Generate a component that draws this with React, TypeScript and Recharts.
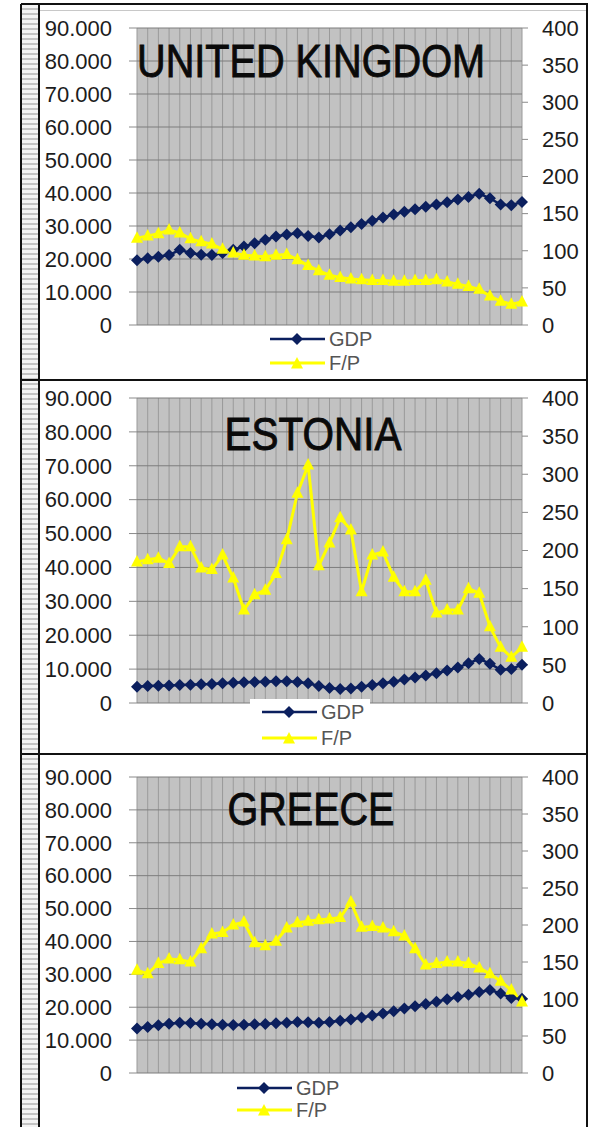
import React from 'react';
import { LineChart, Line, XAxis, YAxis, CartesianGrid, Legend } from 'recharts';

// GDP per head (left axis) and F/P index (right axis), 37 periods per country
const ukGdp = [
  19600, 20200, 20700, 21200, 22800, 21800, 21300, 21200, 21800, 22800,
  23800, 24800, 25800, 26800, 27400, 27800, 27000, 26500, 27500, 28600,
  29600, 30600, 31600, 32600, 33500, 34300, 35100, 35800, 36500, 37200,
  38000, 38800, 39800, 38400, 36500, 36300, 37300,
];
const ukFp = [
  117, 120, 123, 128, 124, 116, 112, 109, 102, 97,
  94, 93, 92, 94, 95, 88, 80, 73, 67, 64,
  62, 61, 60, 60, 59, 59, 60, 60, 61, 58,
  55, 52, 48, 39, 32, 28, 31,
];

const estoniaGdp = [
  4800, 5000, 5100, 5200, 5300, 5400, 5500, 5600, 5800, 6000,
  6100, 6200, 6300, 6400, 6400, 6200, 5800, 5000, 4400, 4100,
  4300, 4800, 5300, 5800, 6300, 6900, 7500, 8100, 8800, 9600,
  10500, 11700, 13000, 11600, 9800, 10000, 11300,
];
const estoniaFp = [
  185, 188, 190, 183, 205, 205, 177, 175, 194, 164,
  122, 142, 148, 170, 214, 275, 312, 180, 210, 243,
  227, 146, 194, 198, 165, 146, 146, 161, 118, 122,
  122, 150, 144, 100, 73, 60, 73,
];

const greeceGdp = [
  13500, 14000, 14500, 15000, 15300, 15200, 15000, 14800, 14700, 14600,
  14700, 14800, 14900, 15100, 15300, 15500, 15400, 15300, 15500, 15900,
  16300, 16900, 17500, 18100, 18800, 19600, 20300, 21000, 21700, 22400,
  23100, 23800, 24600, 25200, 24200, 22800, 22600,
];
const greeceFp = [
  139, 134, 148, 154, 153, 150, 168, 188, 190, 200,
  204, 176, 172, 178, 196, 203, 205, 207, 208, 210,
  231, 197, 198, 196, 191, 185, 168, 146, 148, 150,
  150, 148, 142, 134, 124, 112, 96,
];

const gdpTicks = [0, 10000, 20000, 30000, 40000, 50000, 60000, 70000, 80000, 90000];
const fpTicks = [0, 50, 100, 150, 200, 250, 300, 350, 400];
const seriesOrder = ['gdp', 'fp'];

const GDP_COLOR = '#0b1f5e';
const FP_COLOR = '#ffff00';
const FONT = '"Liberation Sans", Arial, sans-serif';

const fmtGdp = (v: number) => String(v).replace(/\B(?=(\d{3})+(?!\d))/g, '.');

const diamondDot = (p: any) => {
  const { cx, cy, index } = p;
  if (cx == null || cy == null) return <g key={`gd-${index}`} />;
  const r = 6;
  return (
    <polygon
      key={`gd-${index}`}
      points={`${cx},${cy - r} ${cx + r},${cy} ${cx},${cy + r} ${cx - r},${cy}`}
      fill={GDP_COLOR}
    />
  );
};

const triangleDot = (p: any) => {
  const { cx, cy, index } = p;
  if (cx == null || cy == null) return <g key={`fp-${index}`} />;
  return (
    <polygon
      key={`fp-${index}`}
      points={`${cx},${cy - 7} ${cx + 6},${cy + 4.5} ${cx - 6},${cy + 4.5}`}
      fill={FP_COLOR}
    />
  );
};

// x axis keeps its ticks (the grid needs them) but draws no labels
const noTick = () => <g />;

const LegendIcon = ({ dataKey }: { dataKey: string }) => (
  <svg width={55} height={16} style={{ display: 'block' }}>
    <line
      x1={0}
      x2={55}
      y1={8}
      y2={8}
      stroke={dataKey === 'gdp' ? GDP_COLOR : FP_COLOR}
      strokeWidth={dataKey === 'gdp' ? 2.5 : 3}
    />
    {dataKey === 'gdp'
      ? diamondDot({ cx: 27, cy: 8, index: 'l' })
      : triangleDot({ cx: 27, cy: 9, index: 'l' })}
  </svg>
);

const makeLegend = (rowH: number, padLeft: number) => (props: any) => {
  const items = [...((props.payload || []) as any[])].sort(
    (a, b) => seriesOrder.indexOf(a.dataKey) - seriesOrder.indexOf(b.dataKey)
  );
  return (
    <div style={{ background: '#fff', paddingLeft: padLeft, paddingRight: 6 }}>
      {items.map((it) => (
        <div
          key={it.dataKey}
          style={{ display: 'flex', alignItems: 'center', height: rowH }}
        >
          <LegendIcon dataKey={it.dataKey} />
          <span style={{ marginLeft: 4, fontSize: 20, color: '#555', fontFamily: FONT }}>
            {it.value}
          </span>
        </div>
      ))}
    </div>
  );
};

type PanelProps = {
  title: string;
  titleX: number;
  titleY: number;
  titleW: number;
  top: number;
  height: number;
  mTop: number;
  mBottom: number;
  gdp: number[];
  fp: number[];
  legendLeft: number;
  legendTop: number;
  legendRow: number;
  legendPad: number;
};

const W = 547;

const Panel = (p: PanelProps) => {
  const rows = p.gdp.map((g, i) => ({ period: i + 1, gdp: g, fp: p.fp[i] }));
  const tickStyle = { fontSize: 22, fill: '#1c1c1c', fontFamily: FONT };
  return (
    <div style={{ position: 'absolute', left: 40, top: p.top, width: W, height: p.height }}>
      <LineChart
        width={W}
        height={p.height}
        data={rows}
        margin={{ top: p.mTop, right: 0, bottom: p.mBottom, left: 0 }}
      >
        <CartesianGrid
          yAxisId="left"
          horizontal={false}
          fill="#c2c2c2"
          fillOpacity={1}
          stroke="#9a9a9a"
          strokeWidth={1}
        />
        <CartesianGrid
          yAxisId="left"
          vertical={false}
          stroke="#7d7d7d"
          strokeWidth={1}
        />
        <XAxis
          dataKey="period"
          height={0}
          interval={0}
          tick={noTick}
          axisLine={false}
          tickLine={false}
        />
        <YAxis
          yAxisId="left"
          width={97}
          domain={[0, 90000]}
          ticks={gdpTicks}
          interval={0}
          tickFormatter={fmtGdp}
          axisLine={false}
          tickLine={{ stroke: '#8a8a8a' }}
          tickSize={8}
          tickMargin={17}
          tick={tickStyle}
        />
        <YAxis
          yAxisId="right"
          orientation="right"
          width={65}
          domain={[0, 400]}
          ticks={fpTicks}
          interval={0}
          axisLine={false}
          tickLine={{ stroke: '#8a8a8a' }}
          tickSize={6}
          tickMargin={14}
          tick={tickStyle}
        />
        <Line
          yAxisId="left"
          type="linear"
          dataKey="gdp"
          name="GDP"
          stroke={GDP_COLOR}
          strokeWidth={2.5}
          dot={diamondDot}
          activeDot={false}
          isAnimationActive={false}
        />
        <Line
          yAxisId="right"
          type="linear"
          dataKey="fp"
          name="F/P"
          stroke={FP_COLOR}
          strokeWidth={3}
          dot={triangleDot}
          activeDot={false}
          isAnimationActive={false}
        />
        <Legend
          layout="vertical"
          align="center"
          verticalAlign="middle"
          content={makeLegend(p.legendRow, p.legendPad)}
          wrapperStyle={{ left: p.legendLeft, top: p.legendTop, width: 'auto' }}
        />
      </LineChart>
      <svg
        width={W}
        height={p.height}
        style={{ position: 'absolute', left: 0, top: 0, pointerEvents: 'none' }}
      >
        <text
          x={p.titleX}
          y={p.titleY}
          textAnchor="middle"
          textLength={p.titleW}
          lengthAdjust="spacingAndGlyphs"
          fontSize={46}
          fontFamily={FONT}
          fill="#0a0a0a"
          stroke="#0a0a0a"
          strokeWidth={0.9}
        >
          {p.title}
        </text>
      </svg>
    </div>
  );
};

const hLine = (y: number) => (
  <div style={{ position: 'absolute', left: 21, top: y, width: 567, height: 2, background: '#111' }} />
);

export default function App() {
  return (
    <div
      style={{
        position: 'absolute',
        left: 0,
        top: 0,
        width: 592,
        height: 1127,
        background: '#fff',
        overflow: 'hidden',
        fontFamily: FONT,
      }}
    >
      {/* spreadsheet row-header strip on the left */}
      <div
        style={{
          position: 'absolute',
          left: 22,
          top: 5,
          width: 16,
          height: 1122,
          background:
            'repeating-linear-gradient(to bottom, #f4f4f4 0px, #f4f4f4 3px, #c4c4c4 3px, #c4c4c4 5px)',
        }}
      />
      <div style={{ position: 'absolute', left: 20, top: 4, width: 2, height: 1123, background: '#111' }} />
      <div style={{ position: 'absolute', left: 38, top: 4, width: 2, height: 1123, background: '#111' }} />
      <div style={{ position: 'absolute', left: 586, top: 4, width: 2, height: 1123, background: '#111' }} />

      <Panel
        title="UNITED KINGDOM"
        titleX={271}
        titleY={72}
        titleW={348}
        top={5}
        height={375}
        mTop={23}
        mBottom={55}
        gdp={ukGdp}
        fp={ukFp}
        legendLeft={230}
        legendTop={322}
        legendRow={24}
        legendPad={0}
      />
      <Panel
        title="ESTONIA"
        titleX={273}
        titleY={69}
        titleW={177}
        top={381}
        height={373}
        mTop={17}
        mBottom={51}
        gdp={estoniaGdp}
        fp={estoniaFp}
        legendLeft={210}
        legendTop={318}
        legendRow={26}
        legendPad={12}
      />
      <Panel
        title="GREECE"
        titleX={271}
        titleY={70}
        titleW={167}
        top={755}
        height={372}
        mTop={22}
        mBottom={54}
        gdp={greeceGdp}
        fp={greeceFp}
        legendLeft={197}
        legendTop={322}
        legendRow={22}
        legendPad={0}
      />

      {hLine(3)}
      {hLine(379)}
      {hLine(753)}
      <div style={{ position: 'absolute', left: 40, top: 10, width: 546, height: 1, background: '#c8c8c8' }} />
    </div>
  );
}
